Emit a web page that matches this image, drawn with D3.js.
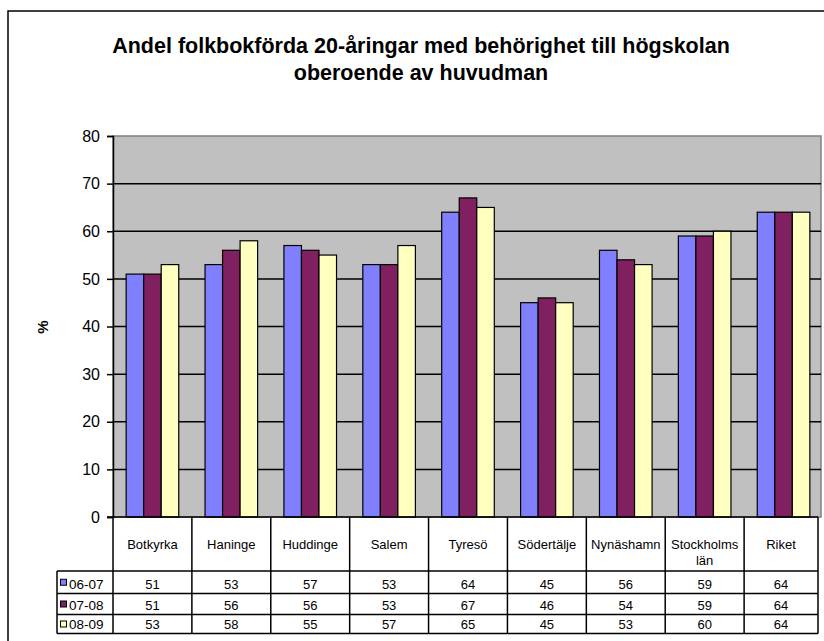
<!DOCTYPE html>
<html>
<head>
<meta charset="utf-8">
<script src="https://cdn.jsdelivr.net/npm/d3@7"></script>
<style>
  body { margin: 0; background: #fff; }
  text { font-family: Arial, "Liberation Sans", sans-serif; fill: #000; }
</style>
</head>
<body>
<div class="graph-container"></div>
<script>
const categories = ['Botkyrka', 'Haninge', 'Huddinge', 'Salem', 'Tyresö',
                    'Södertälje', 'Nynäshamn', 'Stockholms län', 'Riket'];
const seriesNames = ['06-07', '07-08', '08-09'];
const values0607 = [51, 53, 57, 53, 64, 45, 56, 59, 64];
const values0708 = [51, 56, 56, 53, 67, 46, 54, 59, 64];
const values0809 = [53, 58, 55, 57, 65, 45, 53, 60, 64];
const yTicks = [0, 10, 20, 30, 40, 50, 60, 70, 80];
const titleLines = ['Andel folkbokförda 20-åringar med behörighet till högskolan',
                    'oberoende av huvudman'];
const yTitle = '%';

const series = [values0607, values0708, values0809];
const colors = ['#8080ff', '#802060', '#ffffc0'];

const width = 824, height = 641;
const plot = { left: 113, right: 823, top: 136, bottom: 517 };
const tableRows = [571, 593.5, 614.5, 633.5];   // bottom of header row and data rows
const legendLeft = 57;

const svg = d3.select('.graph-container')
              .append('svg')
              .attr('width', width)
              .attr('height', height);

// Outer chart border (runs past the right and bottom edge)
svg.append('rect')
   .attr('x', 8)
   .attr('y', 11)
   .attr('width', 840)
   .attr('height', 660)
   .attr('fill', 'none')
   .attr('stroke', '#000')
   .attr('stroke-width', 1.5);

// Title
svg.append('text')
   .attr('text-anchor', 'middle')
   .attr('font-weight', 'bold')
   .attr('font-size', '21.5px')
   .selectAll('tspan')
   .data(titleLines)
   .join('tspan')
   .attr('x', 421)
   .attr('y', (d, i) => 52.5 + i * 27.5)
   .text(d => d);

// Scales
const xScale = d3.scaleBand()
                 .domain(categories)
                 .range([plot.left, plot.right]);
const xInner = d3.scaleBand()
                 .domain(d3.range(series.length))
                 .range([0, xScale.bandwidth()])
                 .paddingInner(0)
                 .paddingOuter(0.75);
const yScale = d3.scaleLinear()
                 .domain([0, 80])
                 .range([plot.bottom, plot.top]);

// Plot area
svg.append('rect')
   .attr('x', plot.left)
   .attr('y', plot.top)
   .attr('width', 821 - plot.left)
   .attr('height', plot.bottom - plot.top)
   .attr('fill', '#c0c0c0')
   .attr('stroke', '#808080')
   .attr('stroke-width', 1.5);

// Grid lines
svg.append('g')
   .attr('class', 'grid')
   .selectAll('line')
   .data(yTicks.filter(t => t > 0 && t < 80))
   .join('line')
   .attr('x1', plot.left)
   .attr('x2', 821)
   .attr('y1', d => yScale(d))
   .attr('y2', d => yScale(d))
   .attr('stroke', '#000')
   .attr('stroke-width', 1.5);

// Bars
series.forEach((vals, s) => {
  svg.append('g')
     .attr('class', `bars series-${s}`)
     .selectAll('rect')
     .data(vals)
     .join('rect')
     .attr('x', (d, i) => xScale(categories[i]) + xInner(s))
     .attr('y', d => yScale(d))
     .attr('width', xInner.bandwidth())
     .attr('height', d => yScale(0) - yScale(d))
     .attr('fill', colors[s])
     .attr('stroke', '#000')
     .attr('stroke-width', 1.2);
});

// Y axis
const yAxis = d3.axisLeft(yScale)
                .tickValues(yTicks)
                .tickSize(6)
                .tickPadding(7);

const yAxisG = svg.append('g')
                  .attr('class', 'axis y-axis')
                  .attr('transform', `translate(${plot.left},0)`)
                  .call(yAxis);
yAxisG.select('.domain').attr('stroke', '#000').attr('stroke-width', 1.5);
yAxisG.selectAll('.tick line').attr('stroke', '#000').attr('stroke-width', 1.5);
yAxisG.selectAll('.tick text')
      .attr('font-size', '16px')
      .attr('font-family', 'Arial, "Liberation Sans", sans-serif')
      .attr('fill', '#000');

svg.append('text')
   .attr('font-weight', 'bold')
   .attr('font-size', '15px')
   .attr('text-anchor', 'middle')
   .attr('transform', 'translate(48,327) rotate(-90)')
   .text(yTitle);

// Data table
const table = svg.append('g')
                 .attr('class', 'data-table')
                 .attr('stroke', '#000')
                 .attr('stroke-width', 1.5);
const tableRight = 818;

// horizontal lines
table.append('line')
     .attr('x1', plot.left - 6).attr('x2', tableRight)
     .attr('y1', plot.bottom).attr('y2', plot.bottom);
tableRows.forEach(y => {
  table.append('line')
       .attr('x1', legendLeft).attr('x2', tableRight)
       .attr('y1', y).attr('y2', y);
});

// vertical lines
const colEdges = categories.map(c => xScale(c)).concat([tableRight]);
colEdges.forEach(x => {
  table.append('line')
       .attr('x1', x).attr('x2', x)
       .attr('y1', plot.bottom).attr('y2', tableRows[3]);
});
table.append('line')
     .attr('x1', legendLeft).attr('x2', legendLeft)
     .attr('y1', tableRows[0]).attr('y2', tableRows[3]);

// category labels (wrapped when too wide)
const colCenter = c => Math.min(xScale(c) + xScale.bandwidth() / 2,
                                (xScale(c) + tableRight) / 2);
categories.forEach(c => {
  const label = svg.append('text')
                   .attr('text-anchor', 'middle')
                   .attr('font-size', '13px')
                   .attr('x', colCenter(c))
                   .attr('y', 549)
                   .text(c);
  if (label.node().getComputedTextLength() > xScale.bandwidth() - 4) {
    const words = c.split(' ');
    label.text(null);
    words.forEach((w, i) => {
      label.append('tspan')
           .attr('x', colCenter(c))
           .attr('y', 549 + i * 16)
           .text(w);
    });
  }
});

// values
series.forEach((vals, s) => {
  const rowTop = tableRows[s], rowBottom = tableRows[s + 1];
  const baseline = rowBottom - 5;

  svg.append('g')
     .selectAll('text')
     .data(vals)
     .join('text')
     .attr('text-anchor', 'middle')
     .attr('font-size', '13px')
     .attr('x', (d, i) => colCenter(categories[i]))
     .attr('y', baseline)
     .text(d => d);

  // legend key
  const mid = (rowTop + rowBottom) / 2;
  svg.append('rect')
     .attr('x', 60.5)
     .attr('y', mid - 3)
     .attr('width', 6)
     .attr('height', 6)
     .attr('fill', colors[s])
     .attr('stroke', '#000')
     .attr('stroke-width', 1);
  svg.append('text')
     .attr('font-size', '13.5px')
     .attr('x', 69)
     .attr('y', baseline + 0.5)
     .text(seriesNames[s]);
});
</script>
</body>
</html>
